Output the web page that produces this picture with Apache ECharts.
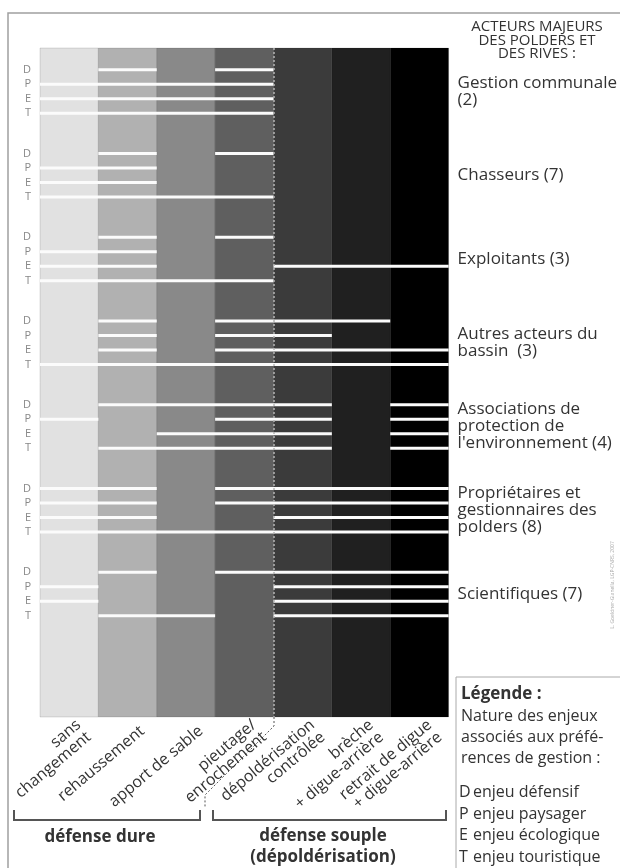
<!DOCTYPE html>
<html lang="fr">
<head>
<meta charset="UTF-8">
<title>Acteurs majeurs des polders et des rives</title>
<script src="https://cdn.jsdelivr.net/npm/echarts@6/dist/echarts.min.js"></script>
<style>
    html, body { margin: 0; padding: 0; background: #fff; }
    #chart { width: 620px; height: 868px; }
</style>
</head>
<body>
<div id="chart"></div>
<script>
// modes de gestion (colonnes), du plus dur au plus souple
var gestions = ['sans\nchangement', 'rehaussement', 'apport de sable', 'pieutage/\nenrochement',
    'dépoldérisation\ncontrôlée', 'brèche\n+ digue-arrière', 'retrait de digue\n+ digue-arrière'];
var teintes = ['#e1e1e1', '#b1b1b1', '#898989', '#5f5f5f', '#3b3b3b', '#202020', '#000000'];

var acteurs = ['Gestion communale\n(2)', 'Chasseurs (7)', 'Exploitants (3)', 'Autres acteurs du\nbassin  (3)',
    'Associations de\nprotection de\nl\'environnement (4)', 'Propriétaires et\ngestionnaires des\npolders (8)',
    'Scientifiques (7)'];
var enjeux = ['D', 'P', 'E', 'T'];
var enjeuxNoms = ['enjeu défensif', 'enjeu paysager', 'enjeu écologique', 'enjeu touristique'];

// préférences : pour chaque enjeu (D, P, E, T), plages de colonnes [début, fin]
var prefGestion = [[[1, 2], [3, 4]], [[0, 4]], [[0, 4]], [[0, 4]]];
var prefChasseurs = [[[1, 2], [3, 4]], [[0, 2]], [[0, 2]], [[0, 4]]];
var prefExploitants = [[[1, 2], [3, 4]], [[0, 2]], [[0, 2], [4, 7]], [[0, 4]]];
var prefAutres = [[[1, 2], [3, 6]], [[1, 2], [3, 5]], [[1, 2], [3, 7]], [[0, 7]]];
var prefAssociations = [[[1, 5], [6, 7]], [[0, 1], [3, 5], [6, 7]], [[2, 5], [6, 7]], [[1, 5], [6, 7]]];
var prefProprietaires = [[[0, 2], [3, 7]], [[0, 2], [3, 7]], [[0, 2], [4, 7]], [[0, 7]]];
var prefScientifiques = [[[1, 2], [3, 7]], [[0, 1], [4, 7]], [[0, 1], [4, 7]], [[1, 3], [4, 7]]];

var preferences = [prefGestion, prefChasseurs, prefExploitants, prefAutres,
    prefAssociations, prefProprietaires, prefScientifiques];

// mise en page verticale : une ligne par enjeu, un bloc par acteur
var PAS_BLOC = 5.77;
var Y_MIN = -1.5, Y_MAX = 44.6;
function rang(g, r) { return +(g * PAS_BLOC + r).toFixed(3); }

var rangs = [], lettres = {};
var centres = [], noms = {};
var segments = [];
preferences.forEach(function (pref, g) {
    pref.forEach(function (plages, r) {
        var y = rang(g, r);
        rangs.push(y);
        lettres[y] = enjeux[r];
        plages.forEach(function (p) {
            segments.push([p[0], p[1], y]);
        });
    });
    var c = rang(g, 1.5);
    centres.push(c);
    noms[c] = acteurs[g];
});

var police = '"Open Sans", "DejaVu Sans", sans-serif';
var texte = '#333';

var myChart = echarts.init(document.getElementById('chart'));
var option = {
    animation: false,
    textStyle: { fontFamily: police },
    grid: [
        { left: 40, top: 48, width: 410, height: 669 },
        { left: 54, top: 48, width: 410, height: 669 }  // étiquettes décalées comme sur l'original
    ],
    xAxis: [
        { type: 'value', gridIndex: 0, min: 0, max: 7, show: false },
        {
            type: 'category', gridIndex: 1, data: gestions,
            axisLine: { show: false },
            axisTick: { show: false },
            axisLabel: {
                interval: 0, rotate: 40, margin: 12,
                fontSize: 16, lineHeight: 16, color: texte, fontFamily: police
            }
        }
    ],
    yAxis: [
        {
            type: 'value', gridIndex: 0, min: Y_MIN, max: Y_MAX, inverse: true,
            axisLine: { show: false }, axisTick: { show: false }, splitLine: { show: false },
            axisLabel: {
                customValues: rangs, margin: 9, fontSize: 11, color: '#888',
                formatter: function (v) { return lettres[+(+v).toFixed(3)] || ''; }
            }
        },
        {
            type: 'value', gridIndex: 0, position: 'right', min: Y_MIN, max: Y_MAX, inverse: true,
            axisLine: { show: false }, axisTick: { show: false }, splitLine: { show: false },
            axisLabel: {
                customValues: centres, margin: 9, align: 'left',
                fontSize: 17, lineHeight: 17, color: texte, fontFamily: police,
                formatter: function (v) { return noms[+(+v).toFixed(3)] || ''; }
            }
        },
        { type: 'value', gridIndex: 1, show: false }
    ],
    series: [
        {
            // fond : une bande grise par mode de gestion
            type: 'custom',
            xAxisIndex: 0, yAxisIndex: 0,
            data: gestions.map(function (g, i) { return [i]; }),
            renderItem: function (params, api) {
                var i = api.value(0);
                var a = api.coord([i, Y_MIN]);
                var b = api.coord([i + 1, Y_MAX]);
                return {
                    type: 'rect',
                    shape: { x: a[0], y: Math.min(a[1], b[1]), width: b[0] - a[0], height: Math.abs(b[1] - a[1]) },
                    style: { fill: teintes[i], stroke: 'rgba(0,0,0,0.12)', lineWidth: 1 }
                };
            },
            z: 1
        },
        {
            // préférences : traits blancs
            type: 'custom',
            xAxisIndex: 0, yAxisIndex: 0,
            data: segments,
            renderItem: function (params, api) {
                var a = api.coord([api.value(0), api.value(2)]);
                var b = api.coord([api.value(1), api.value(2)]);
                return {
                    type: 'line',
                    shape: { x1: a[0], y1: a[1], x2: b[0], y2: b[1] },
                    style: { stroke: '#fbfbfb', lineWidth: 3 }
                };
            },
            markLine: {
                silent: true, symbol: 'none', label: { show: false },
                lineStyle: { color: '#b5b5b5', type: [2, 2], width: 1.5 },
                data: [{ xAxis: 4 }]
            },
            z: 3
        }
    ],
    graphic: [
        {
            type: 'rect', shape: { x: 8, y: 13, width: 640, height: 900 },
            style: { fill: 'none', stroke: '#a0a0a0', lineWidth: 1.5 }, silent: true
        },
        {
            type: 'text', x: 537, y: 20,
            style: {
                text: 'ACTEURS MAJEURS\nDES POLDERS ET\nDES RIVES :', textAlign: 'center',
                font: '15px ' + police, lineHeight: 13.5, fill: texte
            }
        },
        {
            type: 'text', x: 613, y: 585, rotation: Math.PI / 2,
            style: {
                text: 'L. Goeldner-Gianella, LGP-CNRS, 2007', textAlign: 'center', textVerticalAlign: 'middle',
                font: '5px ' + police, fill: '#aaa'
            }
        },
        // prolongement pointillé de la limite dure / souple
        {
            type: 'polyline',
            shape: { points: [[274, 717], [274, 726], [205, 795], [205, 808]] },
            style: { stroke: '#555', lineWidth: 1, lineDash: [2, 2], fill: 'none' }
        },
        {
            type: 'polyline', shape: { points: [[14, 810], [14, 820], [200, 820], [200, 810]] },
            style: { stroke: '#555', lineWidth: 2, fill: 'none' }
        },
        {
            type: 'polyline', shape: { points: [[213, 810], [213, 820], [446, 820], [446, 810]] },
            style: { stroke: '#555', lineWidth: 2, fill: 'none' }
        },
        {
            type: 'text', x: 100, y: 837,
            style: { text: 'défense dure', textAlign: 'center', textVerticalAlign: 'middle',
                font: 'bold 17px ' + police, fill: texte }
        },
        {
            type: 'text', x: 323, y: 847,
            style: { text: 'défense souple\n(dépoldérisation)', textAlign: 'center', textVerticalAlign: 'middle',
                font: 'bold 17px ' + police, lineHeight: 21, fill: texte }
        },
        // légende
        {
            type: 'rect', shape: { x: 456, y: 677, width: 200, height: 250 },
            style: { fill: '#fff', stroke: '#aaa', lineWidth: 1 }
        },
        {
            type: 'text', x: 461, y: 694,
            style: { text: 'Légende :', textVerticalAlign: 'middle', font: 'bold 17px ' + police, fill: texte }
        },
        {
            type: 'text', x: 461, y: 737,
            style: {
                text: 'Nature des enjeux\nassociés aux préfé-\nrences de gestion :', textVerticalAlign: 'middle',
                font: '16px ' + police, lineHeight: 21, fill: texte
            }
        },
        {
            type: 'text', x: 459, y: 825,
            style: { text: enjeux.join('\n'), textVerticalAlign: 'middle',
                font: '16px ' + police, lineHeight: 21.7, fill: texte }
        },
        {
            type: 'text', x: 473, y: 825,
            style: { text: enjeuxNoms.join('\n'), textVerticalAlign: 'middle',
                font: '16px ' + police, lineHeight: 21.7, fill: texte }
        }
    ]
};
myChart.setOption(option);
</script>
</body>
</html>
